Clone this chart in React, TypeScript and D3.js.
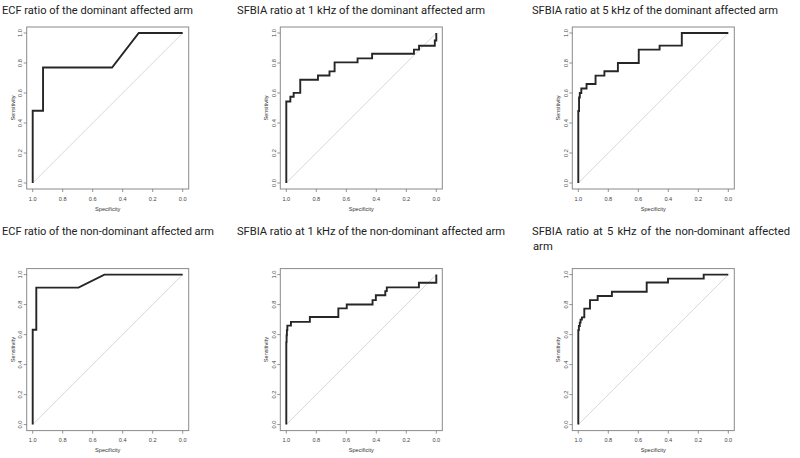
import React from "react";
import * as d3 from "d3";

// ---- data (specificity / sensitivity vertices of each ROC curve) ----
const titles1 = "ECF ratio of the dominant affected arm";
const titles2 = "SFBIA ratio at 1 kHz of the dominant affected arm";
const titles3 = "SFBIA ratio at 5 kHz of the dominant affected arm";
const titles4 = "ECF ratio of the non-dominant affected arm";
const titles5 = "SFBIA ratio at 1 kHz of the non-dominant affected arm";
const titles6a = "SFBIA ratio at 5 kHz of the non-dominant affected";
const titles6b = "arm";

const spec1 = [1, 1, 0.931, 0.931, 0.471, 0.293, 0];
const sens1 = [0, 0.482, 0.482, 0.77, 0.77, 1, 1];

const spec2 = [1, 1, 0.973, 0.973, 0.951, 0.951, 0.907, 0.907, 0.789, 0.789, 0.712, 0.712, 0.678, 0.678, 0.525, 0.525, 0.428, 0.428, 0.149, 0.149, 0.115, 0.115, 0.01, 0.01, 0, 0];
const sens2 = [0, 0.543, 0.543, 0.575, 0.575, 0.601, 0.601, 0.688, 0.688, 0.717, 0.717, 0.744, 0.744, 0.804, 0.804, 0.831, 0.831, 0.862, 0.862, 0.889, 0.889, 0.915, 0.915, 0.95, 0.95, 1];

const spec3 = [1, 1, 0.995, 0.995, 0.99, 0.99, 0.98, 0.98, 0.945, 0.945, 0.885, 0.885, 0.826, 0.826, 0.736, 0.736, 0.597, 0.597, 0.458, 0.458, 0.31, 0.31, 0];
const sens3 = [0, 0.48, 0.48, 0.57, 0.57, 0.6, 0.6, 0.63, 0.63, 0.66, 0.66, 0.716, 0.716, 0.745, 0.745, 0.8, 0.8, 0.889, 0.889, 0.916, 0.916, 1, 1];

const spec4 = [1, 1, 0.976, 0.976, 0.695, 0.522, 0];
const sens4 = [0, 0.632, 0.632, 0.913, 0.913, 1, 1];

const spec5 = [1, 1, 0.998, 0.998, 0.996, 0.996, 0.993, 0.993, 0.969, 0.969, 0.843, 0.843, 0.653, 0.653, 0.597, 0.597, 0.425, 0.425, 0.403, 0.403, 0.34, 0.34, 0.33, 0.33, 0.116, 0.116, 0, 0];
const sens5 = [0, 0.55, 0.55, 0.596, 0.596, 0.63, 0.63, 0.66, 0.66, 0.685, 0.685, 0.717, 0.717, 0.775, 0.775, 0.801, 0.801, 0.83, 0.83, 0.862, 0.862, 0.89, 0.89, 0.915, 0.915, 0.946, 0.946, 1];

const spec6 = [1, 1, 0.996, 0.996, 0.99, 0.99, 0.985, 0.985, 0.976, 0.976, 0.96, 0.96, 0.922, 0.922, 0.871, 0.871, 0.776, 0.776, 0.544, 0.544, 0.402, 0.402, 0.164, 0.164, 0];
const sens6 = [0, 0.63, 0.63, 0.657, 0.657, 0.68, 0.68, 0.7, 0.7, 0.715, 0.715, 0.773, 0.773, 0.83, 0.83, 0.857, 0.857, 0.886, 0.886, 0.947, 0.947, 0.973, 0.973, 1, 1];

const tickValues = [1.0, 0.8, 0.6, 0.4, 0.2, 0.0];
const xLabel = "Specificity";
const yLabel = "Sensitivity";

// ---- layout ----
const W = 800;
const H = 458;
const BOX = 162;
const colL = [26.7, 280.3, 572.3];
const rowT = [27, 268.6];
const titleX = [2, 237, 532];
const titleY = [13.8, 234.5];
const TITLE_SIZE = 11.2;
const TITLE_FONT = "Roboto";
const AXIS_FONT = "'Liberation Sans', Arial, sans-serif";

type Panel = { spec: number[]; sens: number[]; col: number; row: number };

const panels: Panel[] = [
  { spec: spec1, sens: sens1, col: 0, row: 0 },
  { spec: spec2, sens: sens2, col: 1, row: 0 },
  { spec: spec3, sens: sens3, col: 2, row: 0 },
  { spec: spec4, sens: sens4, col: 0, row: 1 },
  { spec: spec5, sens: sens5, col: 1, row: 1 },
  { spec: spec6, sens: sens6, col: 2, row: 1 },
];

function RocPanel({ p }: { p: Panel }) {
  const L = colL[p.col];
  const T = rowT[p.row];
  const x = d3.scaleLinear().domain([1.04, -0.04]).range([L, L + BOX]);
  const y = d3.scaleLinear().domain([-0.04, 1.04]).range([T + BOX, T]);
  const pts: [number, number][] = p.spec.map((s, i) => [s, p.sens[i]]);
  const line = d3
    .line<[number, number]>()
    .x((d) => x(d[0]))
    .y((d) => y(d[1]));
  const diag = line([
    [1, 0],
    [0, 1],
  ]) as string;
  const fmt = d3.format(".1f");
  const B = T + BOX;
  return (
    <g>
      <rect x={L} y={T} width={BOX} height={BOX} fill="white" stroke="#8a8a8a" strokeWidth={1} />
      <path d={diag} stroke="#d8d8d8" strokeWidth={1} fill="none" />
      <path d={line(pts) as string} stroke="#262626" strokeWidth={1.9} fill="none" strokeLinejoin="miter" />
      {tickValues.map((t) => (
        <g key={"x" + t}>
          <line x1={x(t)} x2={x(t)} y1={B} y2={B + 3} stroke="#777" strokeWidth={0.8} />
          <text x={x(t)} y={B + 11.5} fontSize={5.6} fill="#444" textAnchor="middle" fontFamily={AXIS_FONT}>
            {fmt(t)}
          </text>
        </g>
      ))}
      {tickValues.map((t) => (
        <g key={"y" + t}>
          <line x1={L} x2={L - 3} y1={y(t)} y2={y(t)} stroke="#777" strokeWidth={0.8} />
          <text
            transform={`translate(${L - 4.6},${y(t)}) rotate(-90)`}
            fontSize={5.6}
            fill="#444"
            textAnchor="middle"
            fontFamily={AXIS_FONT}
          >
            {fmt(t)}
          </text>
        </g>
      ))}
      <text x={L + BOX / 2} y={B + 21.5} fontSize={5.6} fill="#333" textAnchor="middle" fontFamily={AXIS_FONT}>
        {xLabel}
      </text>
      <text
        transform={`translate(${L - 12.2},${T + BOX / 2}) rotate(-90)`}
        fontSize={5.6}
        fill="#333"
        textAnchor="middle"
        fontFamily={AXIS_FONT}
      >
        {yLabel}
      </text>
    </g>
  );
}

let ctx: CanvasRenderingContext2D | null = null;
function measure(word: string): number {
  if (!ctx) ctx = document.createElement("canvas").getContext("2d");
  if (!ctx) return word.length * TITLE_SIZE * 0.5;
  ctx.font = `${TITLE_SIZE}px ${TITLE_FONT}`;
  return ctx.measureText(word).width;
}

function JustifiedLine({ text, x0, x1, y }: { text: string; x0: number; x1: number; y: number }) {
  const words = text.split(" ");
  const widths = words.map((w) => measure(w));
  const total = d3.sum(widths);
  const gap = Math.max(3, (x1 - x0 - total) / (words.length - 1));
  let cx = x0;
  return (
    <g>
      {words.map((w, i) => {
        const el = (
          <text key={i} x={cx} y={y} fontSize={TITLE_SIZE} fill="#222" fontFamily={TITLE_FONT}>
            {w}
          </text>
        );
        cx += widths[i] + gap;
        return el;
      })}
    </g>
  );
}

function Title({ text, x0, y, width }: { text: string; x0: number; y: number; width: number }) {
  return (
    <text x={x0} y={y} fontSize={TITLE_SIZE} fill="#222" fontFamily={TITLE_FONT} textLength={width} lengthAdjust="spacingAndGlyphs">
      {text}
    </text>
  );
}

export default function App() {
  return (
    <svg width={W} height={H} style={{ position: "absolute", left: 0, top: 0, background: "white" }}>
      <rect x={0} y={0} width={W} height={H} fill="white" />
      <Title text={titles1} x0={titleX[0]} y={titleY[0]} width={191} />
      <Title text={titles2} x0={titleX[1]} y={titleY[0]} width={248} />
      <Title text={titles3} x0={titleX[2]} y={titleY[0]} width={246} />
      <Title text={titles4} x0={titleX[0]} y={titleY[1]} width={212} />
      <Title text={titles5} x0={titleX[1]} y={titleY[1]} width={268} />
      <JustifiedLine text={titles6a} x0={titleX[2]} x1={790} y={titleY[1]} />
      <text x={titleX[2] + 1} y={titleY[1] + 15.5} fontSize={TITLE_SIZE} fill="#222" fontFamily={TITLE_FONT}>
        {titles6b}
      </text>
      {panels.map((p, i) => (
        <RocPanel key={i} p={p} />
      ))}
    </svg>
  );
}
